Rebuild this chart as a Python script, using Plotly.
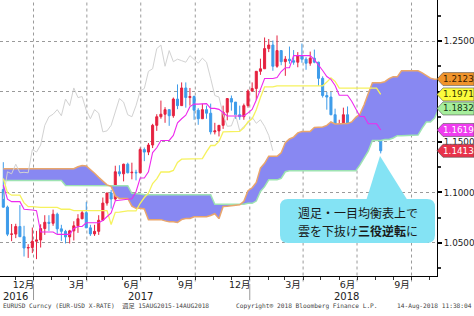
import plotly.graph_objects as go
import pandas as pd

# ---------------- data ----------------
week_dates = pd.date_range("2016-11-11", periods=92, freq="7D")
cloud_dates = pd.date_range("2016-11-11", periods=106, freq="7D")

opens = [1.1030,1.0855,1.0587,1.0588,1.0663,1.0562,1.0450,1.0455,1.0517,1.0530,
         1.0643,1.0705,1.0695,1.0785,1.0640,1.0615,1.0560,1.0620,1.0670,1.0740,
         1.0800,1.0650,1.0590,1.0615,1.0725,1.0895,1.0995,1.0935,1.1205,1.1185,
         1.1280,1.1195,1.1200,1.1195,1.1425,1.1400,1.1470,1.1665,1.1750,1.1775,
         1.1820,1.1760,1.1925,1.1860,1.2035,1.1940,1.1950,1.1815,1.1730,1.1820,
         1.1785,1.1600,1.1610,1.1665,1.1795,1.1930,1.1895,1.1770,1.1750,1.1860,
         1.2005,1.2030,1.2200,1.2225,1.2425,1.2460,1.2250,1.2405,1.2295,1.2320,
         1.2305,1.2290,1.2355,1.2320,1.2280,1.2330,1.2290,1.2130,1.1960,1.1945,
         1.1770,1.1655,1.1660,1.1770,1.1610,1.1655,1.1685,1.1745,1.1685,1.1720,
         1.1655,1.1565]
highs = [1.1300,1.0870,1.0688,1.0690,1.0875,1.0670,1.0488,1.0653,1.0620,1.0685,
         1.0775,1.0775,1.0830,1.0800,1.0680,1.0630,1.0630,1.0715,1.0785,1.0820,
         1.0905,1.0680,1.0680,1.0775,1.0950,1.0995,1.1025,1.1265,1.1270,1.1285,
         1.1295,1.1295,1.1225,1.1445,1.1445,1.1490,1.1680,1.1775,1.1910,1.1845,
         1.1825,1.1940,1.2070,1.2090,1.2090,1.2035,1.1960,1.1835,1.1880,1.1860,
         1.1880,1.1690,1.1665,1.1860,1.1935,1.1960,1.1895,1.1860,1.1880,1.2020,
         1.2090,1.2200,1.2325,1.2535,1.2520,1.2505,1.2555,1.2410,1.2350,1.2445,
         1.2410,1.2390,1.2475,1.2340,1.2395,1.2415,1.2295,1.2150,1.1995,1.1995,
         1.1830,1.1720,1.1840,1.1852,1.1675,1.1720,1.1750,1.1790,1.1750,1.1790,
         1.1745,1.1620]
lows = [1.0850,1.0568,1.0518,1.0548,1.0560,1.0366,1.0352,1.0400,1.0340,1.0455,
        1.0580,1.0620,1.0670,1.0590,1.0520,1.0495,1.0495,1.0525,1.0600,1.0735,
        1.0650,1.0570,1.0570,1.0580,1.0720,1.0870,1.0840,1.0920,1.1160,1.1110,
        1.1190,1.1130,1.1120,1.1190,1.1310,1.1370,1.1440,1.1610,1.1730,1.1690,
        1.1660,1.1740,1.1825,1.1860,1.1840,1.1860,1.1720,1.1670,1.1730,1.1730,
        1.1575,1.1575,1.1555,1.1630,1.1715,1.1810,1.1730,1.1720,1.1720,1.1840,
        1.1995,1.1915,1.2165,1.2225,1.2390,1.2205,1.2235,1.2260,1.2155,1.2275,
        1.2265,1.2240,1.2285,1.2215,1.2255,1.2280,1.2055,1.1940,1.1820,1.1765,
        1.1645,1.1510,1.1660,1.1540,1.1510,1.1530,1.1590,1.1635,1.1575,1.1620,
        1.1530,1.1387]
closes = [1.0855,1.0587,1.0588,1.0663,1.0562,1.0450,1.0455,1.0517,1.0530,1.0643,
          1.0705,1.0695,1.0785,1.0640,1.0615,1.0560,1.0620,1.0670,1.0740,1.0800,
          1.0650,1.0590,1.0615,1.0725,1.0895,1.0995,1.0935,1.1205,1.1185,1.1280,
          1.1195,1.1200,1.1195,1.1425,1.1400,1.1470,1.1665,1.1750,1.1775,1.1820,
          1.1760,1.1925,1.1860,1.2035,1.1940,1.1950,1.1815,1.1730,1.1820,1.1785,
          1.1600,1.1610,1.1665,1.1795,1.1930,1.1895,1.1770,1.1750,1.1860,1.2005,
          1.2030,1.2200,1.2225,1.2425,1.2460,1.2250,1.2405,1.2295,1.2320,1.2305,
          1.2290,1.2355,1.2320,1.2280,1.2330,1.2290,1.2130,1.1960,1.1945,1.1770,
          1.1655,1.1660,1.1770,1.1610,1.1655,1.1685,1.1745,1.1685,1.1720,1.1655,
          1.1565,1.1413]

# 転換線 (conversion line)
tenkan = [1.1075,1.0934,1.0909,1.0909,1.0909,1.0833,1.0826,1.0826,1.0820,1.0608,
          1.0608,1.0608,1.0608,1.0585,1.0585,1.0585,1.0585,1.0643,1.0663,1.0663,
          1.0700,1.0700,1.0700,1.0700,1.0723,1.0760,1.0798,1.0918,1.0920,1.0928,
          1.0933,1.0938,1.1008,1.1143,1.1143,1.1205,1.1395,1.1443,1.1515,1.1515,
          1.1515,1.1565,1.1690,1.1730,1.1765,1.1850,1.1875,1.1875,1.1875,1.1880,
          1.1833,1.1833,1.1823,1.1795,1.1758,1.1758,1.1758,1.1758,1.1758,1.1788,
          1.1823,1.1915,1.2020,1.2128,1.2128,1.2128,1.2138,1.2198,1.2235,1.2235,
          1.2355,1.2355,1.2355,1.2355,1.2355,1.2315,1.2265,1.2208,1.2148,1.2120,
          1.2060,1.1963,1.1963,1.1963,1.1903,1.1830,1.1753,1.1753,1.1681,1.1681,
          1.1681,1.1619]
# 基準線 (base line)
kijun = [1.1139,1.0998,1.0973,1.0973,1.0973,1.0897,1.0859,1.0859,1.0853,1.0853,
         1.0853,1.0853,1.0853,1.0853,1.0834,1.0834,1.0834,1.0820,1.0820,1.0820,
         1.0820,1.0820,1.0820,1.0820,1.0820,1.0820,1.0683,1.0803,1.0805,1.0813,
         1.0818,1.0818,1.0818,1.0893,1.0950,1.0993,1.1088,1.1135,1.1203,1.1203,
         1.1203,1.1218,1.1298,1.1330,1.1330,1.1330,1.1330,1.1330,1.1335,1.1405,
         1.1465,1.1465,1.1505,1.1600,1.1600,1.1605,1.1605,1.1605,1.1640,1.1700,
         1.1730,1.1820,1.1940,1.2045,1.2045,1.2045,1.2055,1.2055,1.2055,1.2055,
         1.2055,1.2055,1.2055,1.2055,1.2055,1.2055,1.2055,1.2055,1.2093,1.2135,
         1.2100,1.2033,1.2033,1.2033,1.2033,1.2033,1.2033,1.2033,1.2033,1.2033,
         1.2033,1.1971]
# 先行スパン1 / 先行スパン2 (leading spans, already shifted forward)
span_a = [1.1235,1.1235,1.1235,1.1235,1.1235,1.1235,1.1235,1.1235,1.1235,1.1235,
          1.1235,1.1235,1.1235,1.1235,1.1235,1.1235,1.1235,1.1235,1.1255,1.1268,
          1.1262,1.1230,1.1190,1.1150,1.1110,1.1075,1.1060,1.0966,1.0941,1.0941,
          1.0941,1.0865,1.0843,1.0843,1.0837,1.0731,1.0731,1.0731,1.0731,1.0719,
          1.0710,1.0710,1.0703,1.0732,1.0742,1.0742,1.0760,1.0760,1.0760,1.0760,
          1.0772,1.0790,1.0741,1.0861,1.0863,1.0870,1.0876,1.0878,1.0913,1.1018,
          1.1047,1.1099,1.1242,1.1289,1.1359,1.1359,1.1359,1.1392,1.1494,1.1530,
          1.1548,1.1590,1.1603,1.1603,1.1605,1.1643,1.1649,1.1649,1.1664,1.1698,
          1.1679,1.1682,1.1682,1.1682,1.1699,1.1744,1.1777,1.1868,1.1980,1.2087,
          1.2087,1.2087,1.2097,1.2127,1.2145,1.2145,1.2205,1.2205,1.2205,1.2205,
          1.2205,1.2185,1.2160,1.2132,1.2121,1.2123]
span_b = [1.1119,1.1119,1.1119,1.1119,1.1119,1.1119,1.1119,1.1119,1.1119,1.1119,
          1.1119,1.1119,1.1119,1.1119,1.1119,1.1070,1.1070,1.1070,1.1070,1.1070,
          1.1070,1.1070,1.1070,1.1070,1.1070,1.1070,1.1070,1.1070,1.1067,1.1067,
          1.1067,1.0991,1.0984,1.0984,1.0978,1.0978,1.0978,1.0978,1.0978,1.0978,
          1.0978,1.0978,1.0978,1.0978,1.0978,1.0978,1.0978,1.0978,1.0978,1.0978,
          1.0978,1.0884,1.0884,1.0884,1.0884,1.0884,1.0884,1.0884,1.0884,1.0893,
          1.0893,1.0915,1.1010,1.1058,1.1125,1.1125,1.1125,1.1140,1.1205,1.1215,
          1.1215,1.1215,1.1215,1.1215,1.1215,1.1215,1.1215,1.1215,1.1215,1.1215,
          1.1215,1.1215,1.1215,1.1215,1.1215,1.1215,1.1273,1.1348,1.1410,1.1515,
          1.1515,1.1515,1.1525,1.1525,1.1540,1.1563,1.1563,1.1563,1.1563,1.1563,
          1.1568,1.1638,1.1698,1.1698,1.1738,1.1832]
chikou_lag = 26  # weeks the lagging span is plotted behind

month_label_dates = ["2016-12-15", "2017-03-15", "2017-06-15", "2017-09-15",
                     "2017-12-15", "2018-03-15", "2018-06-15", "2018-09-15"]
month_labels = ["12月", "3月", "6月", "9月", "12月", "3月", "6月", "9月"]
year_label_dates = ["2016-12-02", "2017-07-01", "2018-06-14"]
year_labels = ["2016", "2017", "2018"]
quarter_starts = ["2017-01-01", "2017-04-01", "2017-07-01", "2017-10-01",
                  "2018-01-01", "2018-04-01", "2018-07-01", "2018-10-01"]
year_starts = ["2017-01-01", "2018-01-01"]
month_starts = list(pd.date_range("2016-12-01", "2018-11-01", freq="MS"))
price_ticks = [1.05, 1.10, 1.15, 1.20, 1.25]
price_minor = [1.025, 1.075, 1.125, 1.175, 1.225, 1.275]

footer_left = "EURUSD Curncy (EUR-USD X-RATE)  週足 15AUG2015-14AUG2018"
footer_mid = "Copyright® 2018 Bloomberg Finance L.P."
footer_right = "14-Aug-2018 11:38:04"
callout_lines = ["週足・一目均衡表上で", "雲を下抜け<b>三役逆転</b>に"]

# ---------------- styling / geometry ----------------
W, H = 474, 316
PW, PH = 437, 276           # plot area in px (left=0, top=0)
Y_RANGE = [1.0173, 1.2906]
X_RANGE = ["2016-11-05 10:00", "2018-11-13"]

RED = "#E5223F"
BLUE = "#3E9CEA"
CLOUD = "rgb(136,136,242)"
SPAN_A_C = "#E9A66C"
SPAN_B_C = "#9EE3B2"
TENKAN_C = "#EE2AEE"
KIJUN_C = "#F6F25E"
CHIKOU_C = "#D2D2D2"
CALLOUT_C = "#84E3F4"
FONT = "DejaVu Sans, Noto Sans CJK JP"


def px(x):
    return x / PW


def py(y):
    return 1 - y / PH


def vy(v):
    return (v - Y_RANGE[0]) / (Y_RANGE[1] - Y_RANGE[0])


fig = go.Figure()

# cloud
fig.add_trace(go.Scatter(x=cloud_dates, y=span_b, mode="lines",
                         line=dict(color=SPAN_B_C, width=1.5), hoverinfo="skip"))
fig.add_trace(go.Scatter(x=cloud_dates, y=span_a, mode="lines", fill="tonexty",
                         fillcolor=CLOUD, line=dict(color=SPAN_A_C, width=1.5),
                         hoverinfo="skip"))
# lagging span
fig.add_trace(go.Scatter(x=week_dates[:len(closes) - chikou_lag], y=closes[chikou_lag:],
                         mode="lines", line=dict(color=CHIKOU_C, width=1)))
# candles
fig.add_trace(go.Candlestick(
    x=week_dates, open=opens, high=highs, low=lows, close=closes,
    increasing=dict(line=dict(color=RED, width=1), fillcolor=RED),
    decreasing=dict(line=dict(color=BLUE, width=1), fillcolor=BLUE),
    whiskerwidth=0))
# base / conversion lines
fig.add_trace(go.Scatter(x=week_dates, y=kijun, mode="lines",
                         line=dict(color=KIJUN_C, width=1.3)))
fig.add_trace(go.Scatter(x=week_dates, y=tenkan, mode="lines",
                         line=dict(color=TENKAN_C, width=1.1)))

shapes = []
# vertical dotted gridlines at quarter starts
for d in quarter_starts:
    shapes.append(dict(type="line", xref="x", yref="paper", x0=d, x1=d, y0=-0.02, y1=1,
                       line=dict(color="#9A9A9A", width=1, dash="dot"), layer="below"))
# year separators below the axis
for d in year_starts:
    shapes.append(dict(type="line", xref="x", yref="paper", x0=d, x1=d,
                       y0=py(300), y1=py(284), line=dict(color="#999999", width=1)))

# price tags on the right
tags = [(span_a[-1], "#F0942C", "#3a2000"),
        (kijun[-1], "#FBFB3C", "#333300"),
        (span_b[-1], "#A6EE9C", "#123312"),
        (tenkan[-1], "#F03CF0", "#FFFFFF"),
        (closes[-1], "#E8324A", "#FFFFFF")]
half = 6.5 / PH
annotations = []
for v, fill, tc in tags:
    yc = vy(v)
    x0, x1, x2 = px(437), px(443), px(474)
    shapes.append(dict(type="path", xref="paper", yref="paper",
                       path=f"M {x0},{yc} L {x1},{yc + half} L {x2},{yc + half} "
                            f"L {x2},{yc - half} L {x1},{yc - half} Z",
                       fillcolor=fill, line=dict(color="#555555", width=0.6), layer="above"))
    annotations.append(dict(xref="paper", yref="paper", x=px(458.5), y=yc,
                            xanchor="center", yanchor="middle", showarrow=False,
                            text=f"{v:.4f}", font=dict(family=FONT, size=8.8, color=tc)))

# callout balloon
bx0, bx1, by0, by1, r = 280, 435, 199, 243, 8
box_path = (f"M {px(bx0 + r)},{py(by0)} L {px(bx1 - r)},{py(by0)} "
            f"Q {px(bx1)},{py(by0)} {px(bx1)},{py(by0 + r)} "
            f"L {px(bx1)},{py(by1 - r)} Q {px(bx1)},{py(by1)} {px(bx1 - r)},{py(by1)} "
            f"L {px(bx0 + r)},{py(by1)} Q {px(bx0)},{py(by1)} {px(bx0)},{py(by1 - r)} "
            f"L {px(bx0)},{py(by0 + r)} Q {px(bx0)},{py(by0)} {px(bx0 + r)},{py(by0)} Z")
shapes.append(dict(type="path", xref="paper", yref="paper", path=box_path,
                   fillcolor=CALLOUT_C, line=dict(width=0), layer="above"))
shapes.append(dict(type="path", xref="paper", yref="paper",
                   path=f"M {px(380)},{py(156)} L {px(366)},{py(201)} L {px(408)},{py(201)} Z",
                   fillcolor=CALLOUT_C, line=dict(width=0), layer="above"))
for i, t in enumerate(callout_lines):
    annotations.append(dict(xref="paper", yref="paper", x=px(296), y=py(212 + 18 * i),
                            xanchor="left", yanchor="middle", showarrow=False, text=t,
                            font=dict(family="Noto Sans CJK JP", size=12, color="#1a1a1a")))

# year labels
for d, t in zip(year_label_dates, year_labels):
    annotations.append(dict(xref="x", yref="paper", x=d, y=py(296), xanchor="center",
                            yanchor="middle", showarrow=False, text=t,
                            font=dict(family=FONT, size=10, color="#222222")))
# footer
foot_font = dict(family="DejaVu Sans Mono, Noto Sans CJK JP", size=6.2, color="#444444")
annotations.append(dict(xref="paper", yref="paper", x=px(1), y=py(306), xanchor="left",
                        yanchor="middle", showarrow=False, text=footer_left, font=foot_font))
annotations.append(dict(xref="paper", yref="paper", x=px(234), y=py(306), xanchor="left",
                        yanchor="middle", showarrow=False, text=footer_mid, font=foot_font))
annotations.append(dict(xref="paper", yref="paper", x=px(474), y=py(306), xanchor="right",
                        yanchor="middle", showarrow=False, text=footer_right, font=foot_font))

fig.update_layout(
    width=W, height=H, margin=dict(l=0, r=W - PW, t=0, b=H - PH),
    paper_bgcolor="white", plot_bgcolor="white", showlegend=False,
    font=dict(family=FONT, size=9.5, color="#222222"),
    shapes=shapes, annotations=annotations,
    xaxis=dict(type="date", range=X_RANGE, rangeslider=dict(visible=False),
               tickmode="array", tickvals=month_label_dates, ticktext=month_labels,
               ticks="", showgrid=False, zeroline=False,
               showline=True, linecolor="#000000", linewidth=1,
               tickfont=dict(family=FONT, size=9.5, color="#222222"),
               minor=dict(tickmode="array", tickvals=month_starts, ticks="outside",
                          ticklen=3, tickcolor="#333333", showgrid=False)),
    yaxis=dict(side="right", range=Y_RANGE, tickmode="array", tickvals=price_ticks,
               tickformat=".4f", ticks="outside", ticklen=4, tickwidth=2,
               tickcolor="#000000", showgrid=True, gridcolor="#9A9A9A", griddash="dot",
               gridwidth=1, zeroline=False, showline=True, linecolor="#000000",
               linewidth=1, tickfont=dict(family=FONT, size=8.8, color="#222222"),
               minor=dict(tickmode="array", tickvals=price_minor, ticks="outside",
                          ticklen=3, tickcolor="#333333", showgrid=False)),
)

fig.write_html("out.html",
               config={"displayModeBar": False, "staticPlot": True},
               post_script="document.body.style.margin='0px';"
                           "document.body.style.overflow='hidden';")
